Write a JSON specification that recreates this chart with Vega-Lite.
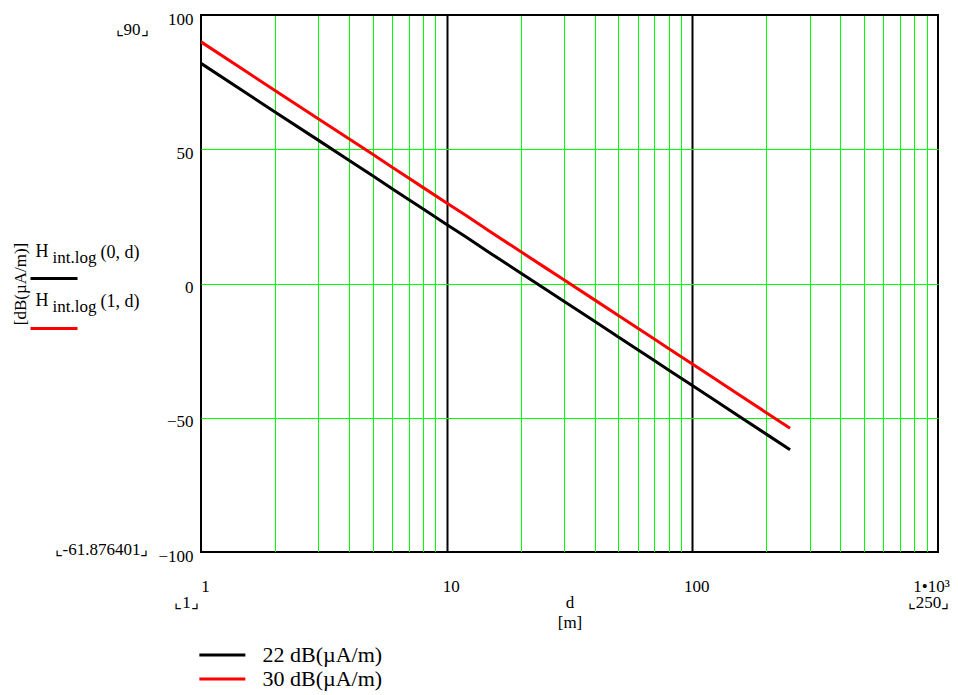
{
  "$schema": "https://vega.github.io/schema/vega-lite/v6.json",
  "width": 737,
  "height": 537,
  "autosize": {"type": "none"},
  "padding": {"left": 201, "top": 15, "right": 20, "bottom": 143},
  "background": "white",
  "config": {
    "view": {"stroke": "black", "strokeWidth": 2},
    "font": "Liberation Serif",
    "axis": {
      "labelFont": "Liberation Serif",
      "titleFont": "Liberation Serif",
      "labelColor": "black",
      "titleColor": "black",
      "ticks": false,
      "domain": false,
      "labelFlush": false,
      "labelOverlap": false,
      "labelBound": false,
      "titleFontWeight": "normal"
    }
  },
  "data": {
    "values": [
      {"d": 1, "H": 82, "series": "22 dB(µA/m)"},
      {"d": 1.5, "H": 71.4, "series": "22 dB(µA/m)"},
      {"d": 2, "H": 63.9, "series": "22 dB(µA/m)"},
      {"d": 3, "H": 53.4, "series": "22 dB(µA/m)"},
      {"d": 4, "H": 45.9, "series": "22 dB(µA/m)"},
      {"d": 5, "H": 40.1, "series": "22 dB(µA/m)"},
      {"d": 6, "H": 35.3, "series": "22 dB(µA/m)"},
      {"d": 7, "H": 31.3, "series": "22 dB(µA/m)"},
      {"d": 8, "H": 27.8, "series": "22 dB(µA/m)"},
      {"d": 10, "H": 22, "series": "22 dB(µA/m)"},
      {"d": 12, "H": 17.3, "series": "22 dB(µA/m)"},
      {"d": 15, "H": 11.4, "series": "22 dB(µA/m)"},
      {"d": 20, "H": 3.9, "series": "22 dB(µA/m)"},
      {"d": 25, "H": -1.9, "series": "22 dB(µA/m)"},
      {"d": 30, "H": -6.6, "series": "22 dB(µA/m)"},
      {"d": 40, "H": -14.1, "series": "22 dB(µA/m)"},
      {"d": 50, "H": -19.9, "series": "22 dB(µA/m)"},
      {"d": 60, "H": -24.7, "series": "22 dB(µA/m)"},
      {"d": 70, "H": -28.7, "series": "22 dB(µA/m)"},
      {"d": 80, "H": -32.2, "series": "22 dB(µA/m)"},
      {"d": 100, "H": -38, "series": "22 dB(µA/m)"},
      {"d": 120, "H": -42.7, "series": "22 dB(µA/m)"},
      {"d": 150, "H": -48.6, "series": "22 dB(µA/m)"},
      {"d": 200, "H": -56.1, "series": "22 dB(µA/m)"},
      {"d": 250, "H": -61.9, "series": "22 dB(µA/m)"},
      {"d": 1, "H": 90, "series": "30 dB(µA/m)"},
      {"d": 1.5, "H": 79.4, "series": "30 dB(µA/m)"},
      {"d": 2, "H": 71.9, "series": "30 dB(µA/m)"},
      {"d": 3, "H": 61.4, "series": "30 dB(µA/m)"},
      {"d": 4, "H": 53.9, "series": "30 dB(µA/m)"},
      {"d": 5, "H": 48.1, "series": "30 dB(µA/m)"},
      {"d": 6, "H": 43.3, "series": "30 dB(µA/m)"},
      {"d": 7, "H": 39.3, "series": "30 dB(µA/m)"},
      {"d": 8, "H": 35.8, "series": "30 dB(µA/m)"},
      {"d": 10, "H": 30, "series": "30 dB(µA/m)"},
      {"d": 12, "H": 25.3, "series": "30 dB(µA/m)"},
      {"d": 15, "H": 19.4, "series": "30 dB(µA/m)"},
      {"d": 20, "H": 11.9, "series": "30 dB(µA/m)"},
      {"d": 25, "H": 6.1, "series": "30 dB(µA/m)"},
      {"d": 30, "H": 1.4, "series": "30 dB(µA/m)"},
      {"d": 40, "H": -6.1, "series": "30 dB(µA/m)"},
      {"d": 50, "H": -11.9, "series": "30 dB(µA/m)"},
      {"d": 60, "H": -16.7, "series": "30 dB(µA/m)"},
      {"d": 70, "H": -20.7, "series": "30 dB(µA/m)"},
      {"d": 80, "H": -24.2, "series": "30 dB(µA/m)"},
      {"d": 100, "H": -30, "series": "30 dB(µA/m)"},
      {"d": 120, "H": -34.7, "series": "30 dB(µA/m)"},
      {"d": 150, "H": -40.6, "series": "30 dB(µA/m)"},
      {"d": 200, "H": -48.1, "series": "30 dB(µA/m)"},
      {"d": 250, "H": -53.9, "series": "30 dB(µA/m)"}
    ]
  },
  "layer": [
    {
      "mark": {"type": "line", "strokeWidth": 3, "clip": true},
      "encoding": {
        "x": {
          "field": "d",
          "type": "quantitative",
          "scale": {"type": "log", "domain": [1, 1000], "nice": false},
          "axis": {
            "orient": "bottom",
            "values": [1, 2, 3, 4, 5, 6, 7, 8, 9, 10, 20, 30, 40, 50, 60, 70, 80, 90, 100, 200, 300, 400, 500, 600, 700, 800, 900, 1000],
            "grid": true,
            "gridOpacity": 1,
            "gridColor": {"condition": {"test": "datum.value == 1 || datum.value == 10 || datum.value == 100 || datum.value == 1000", "value": "#000000"}, "value": "#00ff00"},
            "gridWidth": {"condition": {"test": "datum.value == 10 || datum.value == 100", "value": 2}, "value": 1},
            "labelExpr": "datum.value == 1 ? '1' : datum.value == 10 ? '10' : datum.value == 100 ? '100' : datum.value == 1000 ? '1•10³' : ''",
            "labelFontSize": 17,
            "labelBaseline": "middle",
            "labelPadding": 34,
            "labelOffset": {"condition": {"test": "datum.value == 1000", "value": -7}, "value": 4},
            "title": ["d", "[m]"],
            "titleFontSize": 17,
            "titlePadding": 0,
            "titleLineHeight": 20
          }
        },
        "y": {
          "field": "H",
          "type": "quantitative",
          "scale": {"domain": [-100, 100], "nice": false, "zero": false},
          "axis": {
            "orient": "left",
            "values": [-100, -50, 0, 50, 100],
            "grid": true,
            "gridOpacity": 1,
            "gridColor": {"condition": {"test": "abs(datum.value) == 100", "value": "#000000"}, "value": "#00ff00"},
            "gridWidth": 1,
            "labelFontSize": 17,
            "labelPadding": 8,
            "labelOffset": 4,
            "labelBaseline": "middle",
            "title": "[dB(µA/m)]",
            "titleFontSize": 17,
            "titlePadding": 128
          }
        },
        "color": {
          "field": "series",
          "type": "nominal",
          "scale": {"domain": ["22 dB(µA/m)", "30 dB(µA/m)"], "range": ["#000000", "#ff0000"]},
          "legend": {
            "orient": "bottom",
            "direction": "vertical",
            "title": null,
            "symbolType": "M-2.2,0H5.8",
            "symbolSize": 132.25,
            "symbolStrokeWidth": 3,
            "labelFontSize": 22,
            "labelFont": "Liberation Serif",
            "labelColor": "black",
            "labelOffset": 39.5,
            "rowPadding": 2,
            "offset": 14
          }
        }
      }
    },
    {
      "mark": {"type": "point", "opacity": 0},
      "encoding": {
        "x": {
          "field": "d",
          "type": "quantitative",
          "axis": {
            "orient": "bottom",
            "values": [1, 1000],
            "grid": false,
            "labelExpr": "datum.value == 1 ? '⌞1⌟' : '⌞250⌟'",
            "labelFontSize": 17,
            "labelBaseline": "middle",
            "labelPadding": 50,
            "labelOffset": {"condition": {"test": "datum.value == 1", "value": -15}, "value": -10},
            "title": null
          }
        },
        "y": {
          "field": "H",
          "type": "quantitative",
          "axis": {
            "orient": "left",
            "values": [-100, 100],
            "grid": false,
            "labelExpr": "datum.value > 0 ? '⌞90⌟' : '⌞-61.876401⌟'",
            "labelFontSize": 17,
            "labelBaseline": "middle",
            "labelPadding": 53,
            "labelOffset": {"condition": {"test": "datum.value > 0", "value": 14}, "value": -3},
            "title": null
          }
        }
      }
    },
    {
      "mark": {"type": "point", "opacity": 0},
      "encoding": {
        "x": {"field": "d", "type": "quantitative", "axis": null},
        "y": {
          "field": "H",
          "type": "quantitative",
          "axis": {
            "orient": "left",
            "values": [1.94, -16.46],
            "offset": 124,
            "grid": false,
            "domain": false,
            "ticks": true,
            "tickSize": 47,
            "tickWidth": 3,
            "tickColor": {"condition": {"test": "datum.value > 0", "value": "#000000"}, "value": "#ff0000"},
            "labelExpr": "'H'",
            "labelAlign": "left",
            "labelPadding": -5,
            "labelOffset": -27,
            "labelFontSize": 18,
            "labelBaseline": "middle",
            "title": null
          }
        }
      }
    },
    {
      "mark": {"type": "point", "opacity": 0},
      "encoding": {
        "x": {"field": "d", "type": "quantitative", "axis": null},
        "y": {
          "field": "H",
          "type": "quantitative",
          "axis": {
            "orient": "left",
            "values": [1.94, -16.46],
            "offset": 124,
            "grid": false,
            "domain": false,
            "ticks": true,
            "tickSize": 47,
            "tickOpacity": 0,
            "labelExpr": "'int.log'",
            "labelAlign": "left",
            "labelPadding": -22,
            "labelOffset": -21,
            "labelFontSize": 17,
            "labelBaseline": "middle",
            "title": null
          }
        }
      }
    },
    {
      "mark": {"type": "point", "opacity": 0},
      "encoding": {
        "x": {"field": "d", "type": "quantitative", "axis": null},
        "y": {
          "field": "H",
          "type": "quantitative",
          "axis": {
            "orient": "left",
            "values": [1.94, -16.46],
            "offset": 124,
            "grid": false,
            "domain": false,
            "ticks": true,
            "tickSize": 47,
            "tickOpacity": 0,
            "labelExpr": "datum.value > 0 ? '(0, d)' : '(1, d)'",
            "labelAlign": "left",
            "labelPadding": -70,
            "labelOffset": -26,
            "labelFontSize": 18,
            "labelBaseline": "middle",
            "title": null
          }
        }
      }
    }
  ],
  "resolve": {"axis": {"x": "independent", "y": "independent"}}
}
